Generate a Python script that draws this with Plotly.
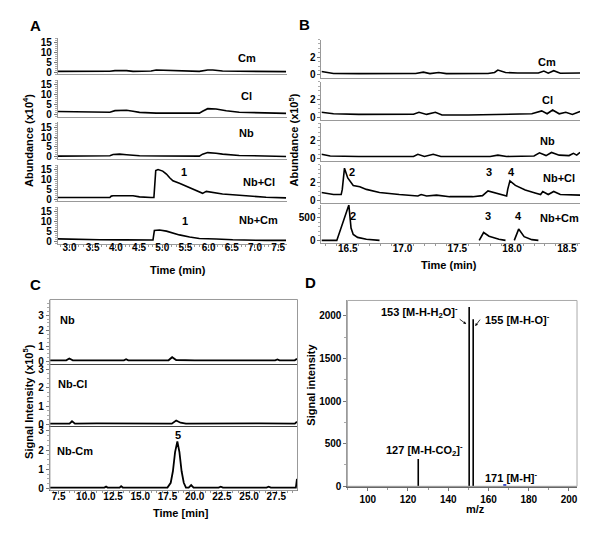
import plotly.graph_objects as go

# the page body has an 8 px margin on every side; keep the page exactly 600 x 538
OFF = 8
W, H = 600 - 2 * OFF, 538 - 2 * OFF
FONT = "Liberation Sans, Arial, sans-serif"

# ---------------- data ----------------
# Panel A : abundance (x10^4) vs time (min)
a_names = ["Cm", "Cl", "Nb", "Nb+Cl", "Nb+Cm"]
a_cm_t = [2.75, 3.30, 3.65, 3.87, 3.98, 4.10, 4.23, 4.37, 4.76, 4.87, 5.00, 5.09, 5.23, 5.50, 5.80, 5.98, 6.09, 6.30, 6.60, 7.00, 7.35, 7.67]
a_cm_y = [0.35, 0.3, 0.4, 0.4, 0.7, 0.75, 0.7, 0.35, 0.5, 1.0, 0.9, 0.85, 0.5, 0.45, 0.35, 1.0, 1.0, 0.5, 0.4, 0.3, 0.3, 0.2]
a_cl_t = [2.75, 3.30, 3.87, 3.98, 4.23, 4.37, 4.51, 4.87, 5.23, 5.50, 5.80, 5.87, 5.98, 6.16, 6.38, 6.66, 7.09, 7.67]
a_cl_y = [1.45, 1.3, 1.1, 1.9, 2.1, 1.6, 1.0, 0.65, 0.8, 0.7, 0.65, 1.6, 2.9, 2.7, 1.8, 1.1, 0.8, 0.5]
a_nb_t = [2.75, 3.30, 3.87, 3.94, 4.08, 4.23, 4.51, 5.00, 5.80, 5.87, 5.98, 6.16, 6.30, 6.66, 7.20, 7.67]
a_nb_y = [0.3, 0.4, 0.5, 1.1, 1.3, 1.0, 0.5, 0.4, 0.3, 1.3, 2.1, 1.8, 1.3, 0.65, 0.3, 0.1]
a_nbcl_t = [2.75, 3.30, 3.87, 3.90, 3.94, 4.37, 4.51, 4.76, 4.82, 4.86, 4.91, 5.01, 5.09, 5.16, 5.23, 5.37, 5.52, 5.66, 5.80, 5.87, 5.95, 6.09, 6.30, 6.52, 6.88, 7.24, 7.67]
a_nbcl_y = [0.8, 0.75, 0.8, 1.5, 1.7, 1.7, 1.1, 0.8, 0.8, 14.5, 15.0, 14.2, 12.7, 10.8, 9.3, 8.0, 6.5, 4.9, 3.4, 2.9, 3.9, 3.4, 2.6, 2.2, 1.4, 0.9, 0.6]
a_nbcm_t = [2.75, 3.20, 3.65, 4.20, 4.76, 4.80, 4.83, 4.94, 5.09, 5.23, 5.37, 5.59, 5.80, 6.16, 6.52, 7.24, 7.67]
a_nbcm_y = [1.3, 1.0, 0.8, 0.75, 0.7, 0.7, 5.5, 5.8, 5.2, 4.2, 3.3, 2.2, 1.5, 1.2, 0.8, 0.5, 0.5]
a_peak_labels = ["1", "1"]

# Panel B : abundance (x10^5) vs time (min)
b_names = ["Cm", "Cl", "Nb", "Nb+Cl", "Nb+Cm"]
b_cm_t = [16.26, 16.37, 16.60, 16.90, 17.12, 17.19, 17.25, 17.33, 17.40, 17.78, 17.84, 17.87, 17.94, 18.05, 18.24, 18.29, 18.33, 18.38, 18.44, 18.62]
b_cm_y = [0.4, 0.16, 0.15, 0.17, 0.16, 0.32, 0.16, 0.28, 0.15, 0.16, 0.28, 0.56, 0.28, 0.22, 0.22, 0.44, 0.2, 0.48, 0.2, 0.22]
b_cl_t = [16.26, 16.37, 16.60, 16.90, 17.10, 17.15, 17.22, 17.30, 17.36, 17.60, 18.05, 18.18, 18.27, 18.32, 18.37, 18.43, 18.49, 18.55, 18.62]
b_cl_y = [0.57, 0.4, 0.33, 0.33, 0.35, 0.57, 0.33, 0.57, 0.27, 0.27, 0.33, 0.4, 0.73, 0.4, 0.83, 0.4, 0.57, 0.33, 0.67]
b_nb_t = [16.26, 16.34, 16.60, 17.10, 17.14, 17.20, 17.28, 17.35, 17.80, 17.87, 17.95, 18.20, 18.25, 18.31, 18.36, 18.43, 18.52, 18.56, 18.59, 18.62]
b_nb_y = [0.5, 0.3, 0.25, 0.25, 0.5, 0.25, 0.5, 0.25, 0.25, 0.4, 0.25, 0.3, 0.66, 0.35, 0.7, 0.4, 0.35, 0.6, 0.4, 0.7]
b_nbcl_t = [16.26, 16.37, 16.44, 16.45, 16.47, 16.50, 16.55, 16.61, 16.67, 16.79, 16.97, 17.14, 17.17, 17.22, 17.31, 17.43, 17.64, 17.73, 17.78, 17.84, 17.91, 17.95, 17.96, 17.98, 18.03, 18.12, 18.21, 18.26, 18.28, 18.33, 18.38, 18.44, 18.62]
b_nbcl_y = [0.86, 0.62, 0.62, 1.2, 3.6, 2.5, 1.65, 1.5, 1.2, 0.86, 0.62, 0.45, 0.62, 0.45, 0.55, 0.38, 0.38, 0.5, 1.03, 0.8, 0.52, 0.45, 1.2, 2.17, 1.65, 1.14, 0.8, 0.62, 0.97, 0.62, 0.97, 0.62, 0.55]
b_nbcm_t = [16.26, 16.40, 16.51, 16.53, 16.55, 16.59, 16.67, 16.79, None, 17.70, 17.74, 17.79, 17.88, 17.94, None, 18.02, 18.06, 18.11, 18.18, 18.24]
b_nbcm_y = [0, 0, 780, 275, 133, 67, 25, 0, None, 0, 175, 92, 25, 0, None, 0, 250, 83, 17, 0]
b_peak_labels = ["2", "3", "4"]

# Panel C : signal intensity (x10^5) vs time (min)
c_names = ["Nb", "Nb-Cl", "Nb-Cm"]
c_nb_t = [6.7, 7.5, 8.2, 8.48, 8.8, 10.5, 12.0, 13.5, 13.7, 13.9, 15.5, 17.6, 17.93, 18.3, 20.0, 22.5, 25.0, 27.4, 27.6, 27.8, 29.2, 29.4]
c_nb_y = [0.08, 0.07, 0.08, 0.2, 0.08, 0.07, 0.08, 0.08, 0.15, 0.08, 0.07, 0.08, 0.28, 0.1, 0.08, 0.07, 0.08, 0.08, 0.14, 0.08, 0.08, 0.18]
c_nbcl_t = [6.7, 8.5, 8.73, 9.0, 11.0, 13.0, 15.5, 17.9, 18.3, 18.7, 19.2, 21.0, 23.5, 26.0, 29.2, 29.4]
c_nbcl_y = [0.05, 0.05, 0.18, 0.05, 0.06, 0.05, 0.05, 0.05, 0.22, 0.1, 0.05, 0.06, 0.05, 0.06, 0.05, 0.15]
c_nbcm_t = [6.7, 9.0, 11.7, 11.86, 12.0, 13.1, 13.24, 13.4, 15.5, 17.3, 17.5, 17.8, 18.0, 18.2, 18.41, 18.6, 18.8, 19.0, 19.2, 19.45, 19.68, 19.9, 22.2, 22.4, 22.6, 24.5, 26.6, 26.8, 27.0, 29.3, 29.4]
c_nbcm_y = [0.05, 0.05, 0.05, 0.1, 0.05, 0.05, 0.12, 0.05, 0.05, 0.05, 0.05, 0.3, 0.9, 1.9, 2.45, 1.9, 0.9, 0.3, 0.05, 0.05, 0.18, 0.05, 0.05, 0.1, 0.05, 0.05, 0.05, 0.1, 0.05, 0.05, 0.5]
c_peak_labels = ["5"]

# Panel D : mass spectrum
d_mz = [125.1, 150.4, 152.4]
d_int = [320, 2104, 1961]
d_minor_mz = [168.1]
d_minor_int = [8]
d_labels = ["127 [M-H-CO<sub>2</sub>]<sup>-</sup>", "153 [M-H-H<sub>2</sub>O]<sup>-</sup>",
            "155 [M-H-O]<sup>-</sup>", "171 [M-H]<sup>-</sup>"]

# ---------------- helpers ----------------
def fx(p):
    return (p - OFF) / W

def fy(p):
    return 1 - (p - OFF) / H

fig = go.Figure()
layout = {}
annotations = []
shapes = []
TICKF = dict(family=FONT, size=10, color="black", weight="bold")
n_ax = [0]


def add_axes(xpx, zero_px, ppu, yrange, xrange, yticks, yminor, show_x, xticks=None,
             xfmt=None, xminor=None, xline="#999999", yline="#999999", standoff=-6):
    n_ax[0] += 1
    n = n_ax[0]
    bottom = zero_px - yrange[0] * ppu
    top = zero_px - yrange[1] * ppu
    xa = dict(domain=[fx(xpx[0]), fx(xpx[1])], range=xrange, anchor="y%d" % n,
              showgrid=False, zeroline=False, showline=True, linecolor=xline, linewidth=1,
              tickfont=TICKF, fixedrange=True)
    if show_x:
        xa.update(tickmode="array", tickvals=xticks, ticktext=[xfmt % v for v in xticks],
                  ticks="outside", ticklen=3, tickcolor="#777777", ticklabelstandoff=standoff,
                  minor=dict(dtick=xminor, ticks="outside", ticklen=2, tickcolor="#999999"))
    else:
        xa.update(showticklabels=False, ticks="")
    ya = dict(domain=[fy(bottom), fy(top)], range=yrange, anchor="x%d" % n,
              showgrid=False, zeroline=False, showline=True, linecolor=yline, linewidth=1,
              tickmode="array", tickvals=yticks, ticktext=[str(v) for v in yticks],
              ticks="outside", ticklen=3, tickcolor="#777777", tickfont=TICKF,
              minor=dict(dtick=yminor, ticks="outside", ticklen=2, tickcolor="#aaaaaa"),
              fixedrange=True)
    key = "" if n == 1 else str(n)
    layout["xaxis" + key] = xa
    layout["yaxis" + key] = ya
    return "x" + key, "y" + key


def add_line(xs, ys, ref, width=1.6, color="black"):
    fig.add_trace(go.Scatter(x=xs, y=ys, mode="lines", xaxis=ref[0], yaxis=ref[1],
                             line=dict(color=color, width=width), showlegend=False,
                             hoverinfo="skip"))


def txt(text, x, y, size=11, xanchor="center", angle=0):
    annotations.append(dict(text=text, x=fx(x), y=fy(y), xref="paper", yref="paper",
                            showarrow=False, xanchor=xanchor, yanchor="middle",
                            textangle=angle,
                            font=dict(family=FONT, size=size, color="black", weight="bold")))

# ---------------- Panel A ----------------
a_series = [(a_cm_t, a_cm_y), (a_cl_t, a_cl_y), (a_nb_t, a_nb_y), (a_nbcl_t, a_nbcl_y), (a_nbcm_t, a_nbcm_y)]
a_zero = [71, 114, 157, 200, 243]
a_xticks = [3.0, 3.5, 4.0, 4.5, 5.0, 5.5, 6.0, 6.5, 7.0, 7.5]
for i, (t, y) in enumerate(a_series):
    ref = add_axes((58, 287), a_zero[i], 2.0, [-1.2, 17.5], [2.75, 7.68], [0, 5, 10, 15], 1,
                   i == 4, a_xticks, "%.1f", 0.1, standoff=-9)
    add_line(t, y, ref)
a_lab_y = [57, 95, 133, 183, 221]
for name, ly in zip(a_names, a_lab_y):
    txt(name, 247 if len(name) < 3 else 259, ly)
txt(a_peak_labels[0], 184, 173)
txt(a_peak_labels[1], 185, 222)
txt("Time (min)", 178, 272)
txt("Abundance (x10<sup>4</sup>)", 28, 140, angle=-90)
txt("A", 36, 24, size=15)

# ---------------- Panel B ----------------
b_series = [(b_cm_t, b_cm_y), (b_cl_t, b_cl_y), (b_nb_t, b_nb_y), (b_nbcl_t, b_nbcl_y), (b_nbcm_t, b_nbcm_y)]
b_zero = [74, 117, 159, 201, 242]
b_xticks = [16.5, 17.0, 17.5, 18.0, 18.5]
for i, (t, y) in enumerate(b_series):
    if i < 4:
        ref = add_axes((322, 581), b_zero[i], 9.0, [-0.3, 4.0], [16.26, 18.62], [0, 2], 0.5, False)
    else:
        ref = add_axes((322, 581), b_zero[i], 0.046, [-60, 790], [16.26, 18.62], [0, 500], 100,
                       True, b_xticks, "%.1f", 0.1, standoff=-7)
    add_line(t, y, ref)
b_lab_y = [61, 99, 141, 179, 219]
for name, ly in zip(b_names, b_lab_y):
    txt(name, 548 if len(name) < 3 else 560, ly)
txt(b_peak_labels[0], 353, 173)
txt(b_peak_labels[1], 490, 173)
txt(b_peak_labels[2], 512, 173)
txt(b_peak_labels[0], 354, 217)
txt(b_peak_labels[1], 489, 217)
txt(b_peak_labels[2], 519, 217)
txt("Time (min)", 450, 267)
txt("Abundance (x10<sup>5</sup>)", 294, 140, angle=-90)
txt("B", 305, 23, size=15)

# ---------------- Panel C ----------------
c_series = [(c_nb_t, c_nb_y), (c_nbcl_t, c_nbcl_y), (c_nbcm_t, c_nbcm_y)]
c_zero = [365, 429, 494]
c_ppu = [15.7, 18.7, 19.5]
c_rng = [[-0.13, 3.95], [-0.1, 3.3], [-0.1, 3.2]]
c_xticks = [7.5, 10.0, 12.5, 15.0, 17.5, 20.0, 22.5, 25.0, 27.5]
for i, (t, y) in enumerate(c_series):
    ref = add_axes((50, 298), c_zero[i], c_ppu[i], c_rng[i], [6.7, 29.45], [0, 1, 2, 3], 0.25,
                   i == 2, c_xticks, "%.1f", 0.5, xline="#444444", standoff=-6)
    add_line(t, y, ref, width=1.8)
shapes.append(dict(type="rect", xref="paper", yref="paper", x0=fx(50), x1=fx(298),
                   y0=fy(496), y1=fy(302), line=dict(color="#999999", width=1)))
txt(c_names[0], 68, 323)
txt(c_names[1], 73, 388)
txt(c_names[2], 75, 456)
txt(c_peak_labels[0], 178, 440)
txt("Time [min]", 181, 519)
txt("Signal Intensity (x10<sup>5</sup>)", 28, 405, angle=-90)
txt("C", 36, 287, size=15)

# ---------------- Panel D ----------------
n_ax[0] += 1
nd = n_ax[0]
layout["xaxis%d" % nd] = dict(domain=[fx(348), fx(578)], range=[89.9, 204], anchor="y%d" % nd,
                              showgrid=False, zeroline=False, showline=True, linecolor="#666666",
                              linewidth=2, mirror=False, tickmode="array",
                              tickvals=[100, 120, 140, 160, 180, 200], ticks="outside",
                              ticklen=3, tickcolor="#777777", tickfont=TICKF, ticklabelstandoff=0,
                              minor=dict(dtick=10, ticks="outside", ticklen=2, tickcolor="#999999"),
                              fixedrange=True)
layout["yaxis%d" % nd] = dict(domain=[fy(491.7), fy(303)], range=[0, 2181], anchor="x%d" % nd,
                              showgrid=False, zeroline=False, showline=True, linecolor="#999999",
                              linewidth=1, tickmode="array", tickvals=[0, 500, 1000, 1500, 2000],
                              ticks="outside", ticklen=3, tickcolor="#777777", tickfont=TICKF,
                              minor=dict(dtick=250, ticks="outside", ticklen=2, tickcolor="#aaaaaa"),
                              fixedrange=True)
spike_x, spike_y = [], []
for m, v in zip(d_mz, d_int):
    spike_x += [m, m, None]
    spike_y += [0, v, None]
fig.add_trace(go.Scatter(x=spike_x, y=spike_y, mode="lines", xaxis="x%d" % nd, yaxis="y%d" % nd,
                         line=dict(color="black", width=1.6), showlegend=False, hoverinfo="skip"))
fig.add_trace(go.Scatter(x=d_minor_mz, y=d_minor_int, mode="markers", xaxis="x%d" % nd,
                         yaxis="y%d" % nd, marker=dict(color="#3344cc", size=3, symbol="square"),
                         showlegend=False, hoverinfo="skip"))
shapes.append(dict(type="rect", xref="paper", yref="paper", x0=fx(348), x1=fx(578),
                   y0=fy(491.7), y1=fy(303), line=dict(color="#aaaaaa", width=1)))
txt(d_labels[0], 425, 455)
txt(d_labels[1], 420, 315)
txt(d_labels[2], 518, 322)
txt(d_labels[3], 512, 482)
annotations.append(dict(x=fx(467), y=fy(327), xref="paper", yref="paper", text="",
                        showarrow=True, ax=-8, ay=-6, arrowhead=2, arrowsize=0.7,
                        arrowwidth=0.8, arrowcolor="black"))
annotations.append(dict(x=fx(476), y=fy(329), xref="paper", yref="paper", text="",
                        showarrow=True, ax=6, ay=-8, arrowhead=2, arrowsize=0.7,
                        arrowwidth=0.8, arrowcolor="black"))
txt("m/z", 476, 515)
txt("Signal intensity", 312, 388, angle=-90)
txt("D", 311, 285, size=15)

layout.update(width=W, height=H, margin=dict(l=0, r=0, t=0, b=0),
              paper_bgcolor="white", plot_bgcolor="white", showlegend=False,
              annotations=annotations, shapes=shapes,
              font=dict(family=FONT, size=10, color="black"))
fig.update_layout(**layout)
fig.write_html("out.html")
